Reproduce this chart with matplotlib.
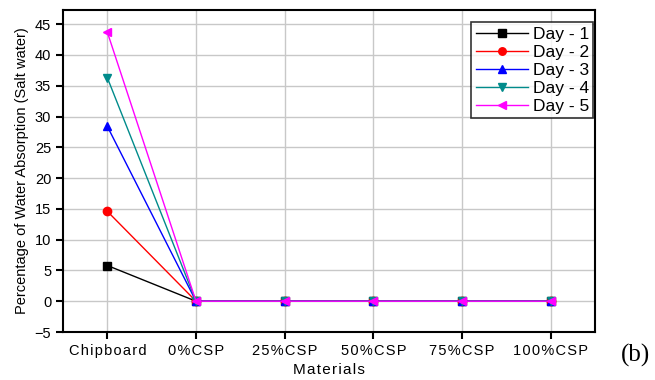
import matplotlib
matplotlib.use("Agg")
import matplotlib.pyplot as plt

materials = ["Chipboard", "0%CSP", "25%CSP", "50%CSP", "75%CSP", "100%CSP"]
day1 = [5.8, 0, 0, 0, 0, 0]
day2 = [14.6, 0, 0, 0, 0, 0]
day3 = [28.4, 0, 0, 0, 0, 0]
day4 = [36.3, 0, 0, 0, 0, 0]
day5 = [43.7, 0, 0, 0, 0, 0]
labels = ["Day - 1", "Day - 2", "Day - 3", "Day - 4", "Day - 5"]

plt.rcParams["font.family"] = ["Liberation Sans", "DejaVu Sans"]

fig = plt.figure(figsize=(6.55, 3.8), dpi=100)
ax = fig.add_axes([63 / 655, 48 / 380, 532 / 655, 322 / 380])

styles = [("black", "s"), ("red", "o"), ("blue", "^"), ("#008B8B", "v"), ("magenta", "<")]
x = list(range(len(materials)))
for ys, lab, (c, m) in zip([day1, day2, day3, day4, day5], labels, styles):
    ax.plot(x, ys, color=c, marker=m, markersize=6, linewidth=1, label=lab)

ax.set_xlim(-0.5, 5.5)
ax.set_ylim(-5, 47.3)
ax.set_yticks(range(-5, 50, 5))
ax.set_xticks(x)
# the original labels are drawn with a little letter spacing
ax.set_xticklabels(["\u200a".join(m) for m in materials], fontsize=10.5)
ax.grid(True, color="#c8c8c8", linewidth=1)
ax.set_axisbelow(True)
for s in ax.spines.values():
    s.set_linewidth(1.5)
ax.tick_params(direction="out", length=5, width=1.5, labelsize=10.5, colors="black")
ax.set_xlabel("\u200a".join("Materials"), fontsize=11)
ax.set_ylabel("Percentage of Water Absorption (Salt water)", fontsize=10.5)

leg = ax.legend(loc="upper right", bbox_to_anchor=(0.997, 0.962), fontsize=12.5,
                frameon=True, fancybox=False, edgecolor="black", handlelength=3.0,
                borderpad=0.25, labelspacing=0.17, handletextpad=0.3, borderaxespad=0.0,
                markerscale=0.9)
leg.get_frame().set_linewidth(1.2)

fig.text(635 / 655, 25 / 380, "(b)", fontsize=18, family="Liberation Serif", ha="center", va="center")

fig.savefig("out.png", dpi=100)
